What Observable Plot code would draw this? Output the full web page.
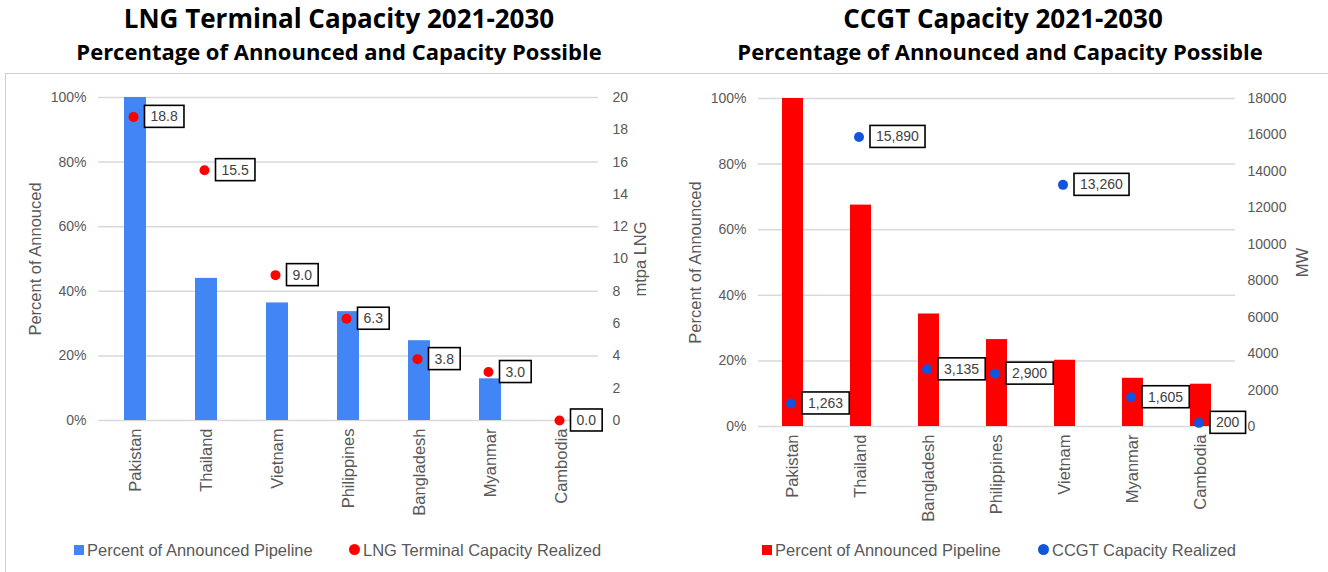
<!DOCTYPE html>
<html><head><meta charset="utf-8">
<script src="https://cdn.jsdelivr.net/npm/d3@7"></script>
<script src="https://cdn.jsdelivr.net/npm/@observablehq/plot@0.6"></script>
<style>
html,body{margin:0;padding:0;background:#fff}
body{width:1328px;height:572px;overflow:hidden;position:relative;font-family:"Liberation Sans",Arial,sans-serif}
.t1,.t2{position:absolute;width:800px;text-align:center;font-family:"Open Sans",Lato,sans-serif;font-weight:bold;color:#000;white-space:nowrap;line-height:1}
.t1{font-size:26px}
.t2{font-size:22px}
.panel{position:absolute;top:73px;width:664px}
.frame{position:absolute;left:5px;top:73px;width:1323px;height:499px;border-top:1px solid #cfcfcf;border-left:1px solid #cfcfcf;box-sizing:border-box}
.leg{position:absolute;font-size:16.5px;color:#595959;white-space:nowrap;line-height:1}
.sq{position:absolute;width:10px;height:10px}
.ci{position:absolute;width:11px;height:11px;border-radius:50%}
</style></head>
<body>
<div class="frame"></div>
<div class="t1" style="left:-61px;top:5px">LNG Terminal Capacity 2021-2030</div>
<div class="t2" style="left:-61px;top:40px">Percentage of Announced and Capacity Possible</div>
<div class="t1" style="left:603px;top:5px">CCGT Capacity 2021-2030</div>
<div class="t2" style="left:600px;top:40px">Percentage of Announced and Capacity Possible</div>
<div id="left" class="panel" style="left:0"></div>
<div id="right" class="panel" style="left:664px"></div>

<div class="sq" style="left:74px;top:545px;background:#4285F4"></div>
<div class="leg" style="left:87px;top:542px">Percent of Announced Pipeline</div>
<div class="ci" style="left:349px;top:544px;background:#FF0000"></div>
<div class="leg" style="left:363px;top:542px">LNG Terminal Capacity Realized</div>

<div class="sq" style="left:762px;top:545px;background:#FF0000"></div>
<div class="leg" style="left:775px;top:542px">Percent of Announced Pipeline</div>
<div class="ci" style="left:1038px;top:544px;background:#1155DD"></div>
<div class="leg" style="left:1052px;top:542px">CCGT Capacity Realized</div>

<script>
// ---- data ----
const lngCountries = ["Pakistan","Thailand","Vietnam","Philippines","Bangladesh","Myanmar","Cambodia"];
const lngPercent   = [1.00, 0.44, 0.364, 0.337, 0.247, 0.129, 0.0];
const lngCapacity  = [18.8, 15.5, 9.0, 6.3, 3.8, 3.0, 0.0];
const lngRightTicks = [0,2,4,6,8,10,12,14,16,18,20];
const lngMax = 20;

const ccgtCountries = ["Pakistan","Thailand","Bangladesh","Philippines","Vietnam","Myanmar","Cambodia"];
const ccgtPercent   = [1.00, 0.675, 0.343, 0.265, 0.202, 0.147, 0.129];
const ccgtCapacity  = [1263, 15890, 3135, 2900, 13260, 1605, 200];
const ccgtRightTicks = [0,2000,4000,6000,8000,10000,12000,14000,16000,18000];
const ccgtMax = 18000;

const pctTicks = [0,0.2,0.4,0.6,0.8,1.0];

const lng = lngCountries.map((c,i)=>({country:c, pct:lngPercent[i], cap:lngCapacity[i], label:d3.format(".1f")(lngCapacity[i])}));
const ccgt = ccgtCountries.map((c,i)=>({country:c, pct:ccgtPercent[i], cap:ccgtCapacity[i], label:d3.format(",")(ccgtCapacity[i])}));

function makeChart(o){
  return Plot.plot({
    width:664, height:455,
    marginLeft:o.ml, marginRight:o.mr, marginTop:o.mt, marginBottom:455-o.mt-o.ph,
    style:{fontFamily:"'Liberation Sans', Arial, sans-serif", color:"#595959", background:"transparent", overflow:"visible"},
    x:{domain:o.countries, paddingInner:0.69, paddingOuter:0.345, label:null},
    y:{domain:[0,1], label:null},
    marks:[
      Plot.gridY(pctTicks, {stroke:"#d9d9d9", strokeOpacity:1, strokeWidth:1.5}),
      Plot.barY(o.data, {x:"country", y:"pct", fill:o.barColor}),
      Plot.axisY(pctTicks, {anchor:"left", tickSize:0, tickPadding:12, tickFormat:d3.format(".0%"), label:null, fontSize:14}),
      Plot.axisY(o.rightTicks.map(v=>v/o.max), {anchor:"right", tickSize:0, tickPadding:o.rpad, tickFormat:v=>String(Math.round(v*o.max)), label:null, fontSize:14}),
      Plot.axisX({tickSize:0, tickPadding:8, tickRotate:-90, fontSize:16.5, label:null}),
      Plot.dot(o.data, {x:"country", y:d=>d.cap/o.max, r:5, fill:o.dotColor, dx:-2}),
      Plot.text(o.data, {x:"country", y:d=>d.cap/o.max, text:"label", textAnchor:"start", dx:15, fill:"#404040", fontSize:14}),
      Plot.text([o.leftTitle], {text:d=>d, frameAnchor:"left", textAnchor:"middle", rotate:-90, dx:-63, fontSize:16.5}),
      Plot.text([o.rightTitle], {text:d=>d, frameAnchor:"right", textAnchor:"middle", rotate:-90, dx:o.rdx, fontSize:16.5})
    ]
  });
}

function boxLabels(svg, labels){
  const set = new Set(labels);
  svg.querySelectorAll('g[aria-label="text"] text').forEach(t=>{
    if(!set.has(t.textContent)) return;
    const b = t.getBBox();
    const r = document.createElementNS("http://www.w3.org/2000/svg","rect");
    r.setAttribute("x", b.x-6);
    r.setAttribute("y", b.y-3);
    r.setAttribute("width", b.width+12);
    r.setAttribute("height", b.height+6);
    r.setAttribute("fill","#fff");
    r.setAttribute("stroke","#000");
    r.setAttribute("stroke-width","1.6");
    const tr = t.getAttribute("transform");
    if(tr) r.setAttribute("transform", tr);
    t.parentNode.insertBefore(r, t);
  });
}

const left = makeChart({countries:lngCountries, data:lng, barColor:"#4285F4", dotColor:"#FF0000",
  rightTicks:lngRightTicks, max:lngMax, ml:98, mr:66, mt:24, ph:323, rpad:14,
  leftTitle:"Percent of Annouced", rightTitle:"mtpa LNG", rdx:42});
document.getElementById("left").append(left);
boxLabels(left, lng.map(d=>d.label));

const right = makeChart({countries:ccgtCountries, data:ccgt, barColor:"#FF0000", dotColor:"#1155DD",
  rightTicks:ccgtRightTicks, max:ccgtMax, ml:94, mr:93, mt:25, ph:328, rpad:12,
  leftTitle:"Percent of Announced", rightTitle:"MW", rdx:67});
document.getElementById("right").append(right);
boxLabels(right, ccgt.map(d=>d.label));
</script>
</body></html>
